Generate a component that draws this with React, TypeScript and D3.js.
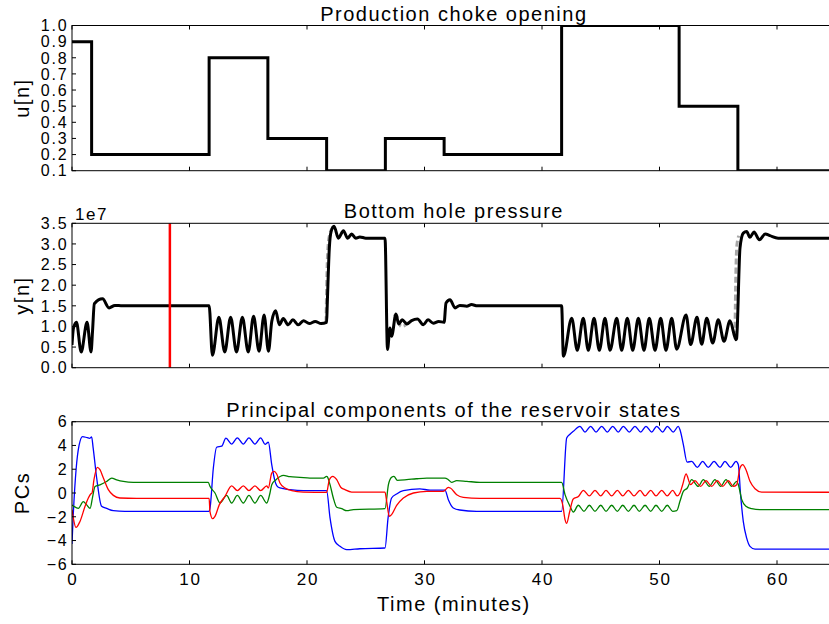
import React from "react";
import * as d3 from "d3";

// ---------------- data ----------------
const xTicks = [0, 10, 20, 30, 40, 50, 60];
const uTicks = [0.1, 0.2, 0.3, 0.4, 0.5, 0.6, 0.7, 0.8, 0.9, 1.0];
const yTicks = [0, 0.5, 1.0, 1.5, 2.0, 2.5, 3.0, 3.5];
const pcTicks = [-6, -4, -2, 0, 2, 4, 6];

// choke opening (time in minutes, value) - step after
const choke: [number, number][] = [
  [0, 0.9], [1.67, 0.2], [11.67, 0.8], [16.67, 0.3], [21.67, 0.1], [26.67, 0.3],
  [31.67, 0.2], [41.67, 1.0], [51.67, 0.5], [56.67, 0.1], [66, 0.1],
];

// bottom hole pressure (x 1e7)
const pressure: [number, number][] = [
  [0, 0.55], [0.12, 0.95], [0.38, 1.1], [0.78, 0.38], [1.28, 1.1], [1.62, 0.38], [1.75, 0.9],
  [1.9, 1.55], [2.6, 1.67], [3.15, 1.45], [3.65, 1.51], [4.3, 1.5], [11.67, 1.5], [11.95, 0.3],
  [12.5, 1.22], [13.0, 0.38], [13.5, 1.22], [14.0, 0.38], [14.5, 1.22], [15.0, 0.38], [15.45, 1.25],
  [15.92, 0.4], [16.35, 1.28], [16.72, 0.4], [17.0, 1.12], [17.33, 1.38], [17.65, 1.04], [17.98, 1.19],
  [18.4, 1.04], [18.8, 1.16], [19.26, 1.04], [19.7, 1.14], [20.2, 1.07], [20.7, 1.12], [21.2, 1.07],
  [21.67, 1.1], [21.72, 1.5], [21.9, 2.9], [22.05, 3.3], [22.3, 3.43], [22.67, 3.14], [23.1, 3.32],
  [23.46, 3.14], [23.8, 3.24], [24.15, 3.14], [24.5, 3.17], [25, 3.14], [26.64, 3.14], [26.85, 0.44],
  [27.06, 0.96], [27.2, 0.76], [27.57, 1.3], [27.8, 1.06], [28.1, 1.16], [28.5, 1.06], [28.9, 1.14],
  [29.4, 1.18], [29.9, 1.04], [30.3, 1.16], [30.75, 1.08], [31.2, 1.12], [31.67, 1.1], [31.83, 1.57],
  [32.17, 1.65], [32.6, 1.45], [33.0, 1.51], [33.6, 1.49], [34.0, 1.53], [34.5, 1.5], [41.67, 1.5],
  [41.82, 0.28], [42.53, 1.2], [43.0, 0.42], [43.51, 1.2], [43.94, 0.42], [44.43, 1.2], [44.88, 0.42],
  [45.36, 1.2], [45.79, 0.42], [46.36, 1.2], [46.78, 0.42], [47.26, 1.2], [47.72, 0.42], [48.2, 1.2],
  [48.68, 0.42], [49.13, 1.2], [49.62, 0.42], [50.1, 1.2], [50.55, 0.42], [51.04, 1.2], [51.46, 0.45],
  [52.26, 1.28], [52.65, 0.56], [53.19, 1.22], [53.59, 0.57], [54.02, 1.2], [54.53, 0.6], [55.0, 1.16],
  [55.49, 0.64], [56.0, 1.14], [56.51, 0.68], [56.56, 0.7], [56.85, 2.9], [57.13, 3.26], [57.42, 3.3],
  [57.7, 3.16], [58.04, 3.29], [58.5, 3.1], [59.0, 3.24], [59.4, 3.2], [60.1, 3.14], [66, 3.14],
];

// target pressure (grey dashed) where it departs from the prediction
const targetSegments: [number, number][][] = [
  [[21.62, 1.1], [21.7, 2.3], [21.78, 2.9], [21.95, 3.25], [22.2, 3.4]],
  [[27.4, 1.25], [27.6, 1.28], [27.8, 1.12], [28.0, 1.0], [28.3, 1.02], [28.6, 1.1]],
  [[56.42, 0.75], [56.5, 2.3], [56.58, 2.95], [56.75, 3.2]],
];

const markerTime = 8.33;

// principal components
const pc1: [number, number][] = [
  [0, -4.3], [0.1, -2.0], [0.35, 2.0], [0.6, 4.0], [0.9, 4.75], [1.3, 4.65], [1.5, 4.6], [1.67, 4.72],
  [1.8, 3.8], [2.1, 1.26], [2.52, -1.12], [2.95, -1.3], [3.52, -1.49], [4.5, -1.54], [11.67, -1.54],
  [11.75, -1.26], [12.03, 2.1], [12.31, 3.85], [12.74, 3.94], [13.1, 4.62], [13.59, 4.12], [14.07, 4.64],
  [14.58, 4.12], [15.06, 4.64], [15.57, 4.12], [16.06, 4.64], [16.43, 4.1], [16.71, 4.27], [17.0, 2.38],
  [17.28, 0.98], [17.56, 0.48], [18.0, 0.36], [18.55, 0.28], [19.69, 0.2], [21.67, 0.2], [21.96, -2.1],
  [22.38, -4.07], [22.81, -4.49], [23.38, -4.77], [24.5, -4.69], [26.64, -4.63], [26.9, -2.1],
  [27.2, -0.42], [27.63, -0.08], [28.2, 0.2], [29.6, 0.34], [30.47, 0.25], [31.74, 0.25], [32.03, -0.56],
  [32.45, -1.26], [33.0, -1.43], [34.44, -1.54], [41.67, -1.54], [42.1, 4.63], [42.38, 4.95],
  [42.67, 5.19], [43.23, 5.61], [43.66, 5.13], [44.14, 5.61], [44.6, 5.13], [45.08, 5.61], [45.56, 5.13],
  [46.02, 5.61], [46.49, 5.13], [46.92, 5.61], [47.43, 5.13], [47.91, 5.61], [48.4, 5.13], [48.85, 5.61],
  [49.34, 5.13], [49.76, 5.61], [50.27, 5.13], [50.67, 5.61], [51.17, 5.13], [51.6, 5.6], [51.75, 5.3],
  [52.03, 4.07], [52.35, 2.6], [52.74, 2.66], [53.22, 2.15], [53.67, 2.66], [54.15, 2.15], [54.64, 2.66],
  [55.15, 2.15], [55.57, 2.66], [56.06, 2.15], [56.51, 2.66], [56.71, 2.38], [56.9, -0.14],
  [57.13, -2.39], [57.42, -3.8], [57.7, -4.49], [58.13, -4.72], [66, -4.72],
];

const pc2: [number, number][] = [
  [0, -1.4], [0.11, -2.1], [0.34, -2.9], [0.68, -2.39], [1.11, -1.12], [1.39, -0.42], [1.59, -0.08],
  [1.7, 0], [1.87, 1.12], [2.16, 2.15], [2.38, 1.96], [2.67, 1.26], [3.09, 0.28], [3.52, -0.2],
  [4.08, -0.42], [5.5, -0.45], [11.67, -0.45], [11.74, -1.54], [11.97, -2.16], [12.17, -1.96],
  [12.54, -0.98], [13.02, -0.28], [13.59, 0.6], [14.07, 0.2], [14.58, 0.6], [15.06, 0.2], [15.57, 0.6],
  [16.06, 0.2], [16.57, 0.6], [16.71, 0.42], [17.0, 1.68], [17.19, 1.82], [17.42, 1.6], [17.7, 0.84],
  [18.13, 0.42], [18.7, 0.2], [19.69, 0.08], [21.67, 0.05], [21.9, 1.12], [22.19, 1.4], [22.53, 1.12],
  [22.87, 0.48], [23.23, 0.28], [23.8, 0.08], [26.64, 0.08], [26.78, -0.7], [27.0, -1.96], [27.2, -1.82],
  [27.63, -1.04], [28.2, -0.42], [29.06, 0], [30.2, 0.14], [31.6, 0.14], [32.03, 0.48], [32.2, 0.42],
  [32.74, -0.14], [33.3, -0.36], [34.7, -0.45], [41.53, -0.45], [41.76, -0.98], [41.96, -2.24],
  [42.1, -2.55], [42.35, -1.6], [42.66, -0.5], [43.1, -0.3], [43.52, 0.22], [44.03, -0.25], [44.51, 0.22],
  [45.0, -0.25], [45.45, 0.22], [45.93, -0.25], [46.41, 0.22], [46.87, -0.25], [47.35, 0.22],
  [47.83, -0.25], [48.34, 0.22], [48.77, -0.25], [49.25, 0.22], [49.7, -0.25], [50.19, 0.22],
  [50.66, -0.25], [51.12, 0.22], [51.5, -0.25], [51.74, 0], [51.97, 0.7], [52.26, 1.6], [52.65, 0.7],
  [53.02, 1.04], [53.5, 0.56], [53.96, 1.04], [54.44, 0.56], [54.92, 1.04], [55.38, 0.56], [55.86, 1.04],
  [56.28, 0.56], [56.57, 0.7], [56.85, 2.1], [57.08, 2.38], [57.36, 1.96], [57.7, 0.98], [58.13, 0.36],
  [58.69, 0.08], [66, 0.06],
];

const pc3: [number, number][] = [
  [0, -1.0], [0.2, -1.15], [0.54, -1.29], [0.96, -0.73], [1.25, -1.0], [1.54, -1.29], [1.76, -0.3],
  [1.96, 0.55], [2.38, 0.69], [2.95, 0.97], [3.38, 1.25], [3.8, 1.11], [4.37, 0.97], [5.22, 0.89],
  [11.6, 0.89], [11.74, 0.56], [12.17, 0], [12.6, -0.84], [13.16, -0.2], [13.59, -0.84], [14.07, -0.2],
  [14.58, -0.84], [15.06, -0.2], [15.57, -0.84], [16.06, -0.2], [16.57, -0.84], [16.85, 0], [17.0, 0.7],
  [17.36, 1.12], [18.0, 1.49], [18.55, 1.37], [19.4, 1.32], [20.25, 1.26], [21.4, 1.26], [21.67, 1.4],
  [21.73, 1.37], [21.96, 0.7], [22.24, -0.42], [22.53, -1.2], [22.95, -1.32], [23.38, -1.49],
  [23.94, -1.4], [26.64, -1.32], [26.93, 0.7], [27.2, 1.32], [27.4, 1.4], [27.69, 1.07], [28.48, 1.12],
  [29.3, 1.2], [30.2, 1.26], [31.74, 1.26], [32.03, 1.12], [32.31, 0.9], [32.74, 1.04], [33.6, 0.98],
  [34.72, 0.9], [41.67, 0.9], [41.96, -0.14], [42.38, -1.12], [42.67, -1.6], [43.09, -1.03],
  [43.57, -1.54], [44.03, -1.03], [44.51, -1.54], [45.0, -1.03], [45.45, -1.54], [45.93, -1.03],
  [46.41, -1.54], [46.87, -1.03], [47.35, -1.54], [47.83, -1.03], [48.28, -1.54], [48.77, -1.03],
  [49.25, -1.54], [49.7, -1.03], [50.19, -1.54], [50.66, -1.03], [51.12, -1.54], [51.47, -1.49],
  [51.74, -0.7], [52.03, 0.14], [52.37, 0.42], [52.74, 1.12], [53.3, 0.56], [53.73, 1.12], [54.24, 0.56],
  [54.72, 1.12], [55.21, 0.56], [55.66, 1.12], [56.14, 0.56], [56.57, 0.98], [56.71, 0.7], [57.0, -0.56],
  [57.36, -1.12], [57.85, -1.32], [58.55, -1.4], [66, -1.4],
];

// ---------------- layout ----------------
const W = 829;
const H = 624;
const LEFT = 72;
const RIGHT = 835.75;
const FONT = "'Liberation Sans', Arial, Helvetica, sans-serif";
const LS = 1.5;
const TICK_FS = 16;
const TICK_LS = 1.8;

const x = d3.scaleLinear().domain([0, 65]).range([LEFT, RIGHT]);

type PanelProps = {
  id: string;
  top: number;
  bottom: number;
  y: d3.ScaleLinear<number, number>;
  ticks: number[];
  fmt: (v: number) => string;
  title: string;
  ylabel: string;
  showX?: boolean;
  children?: React.ReactNode;
};

function Panel({ id, top, bottom, y, ticks, fmt, title, ylabel, showX, children }: PanelProps) {
  const tl = 4;
  const mid = (top + bottom) / 2;
  return (
    <g>
      <defs>
        <clipPath id={id}>
          <rect x={LEFT} y={top} width={RIGHT - LEFT} height={bottom - top} />
        </clipPath>
      </defs>
      <g clipPath={`url(#${id})`}>{children}</g>
      <rect x={LEFT} y={top} width={RIGHT - LEFT} height={bottom - top} fill="none" stroke="#000" strokeWidth={1} />
      {xTicks.map((t) => (
        <g key={"x" + t}>
          <line x1={x(t)} x2={x(t)} y1={bottom} y2={bottom - tl} stroke="#000" strokeWidth={1} />
          <line x1={x(t)} x2={x(t)} y1={top} y2={top + tl} stroke="#000" strokeWidth={1} />
          {showX && (
            <text x={x(t) + TICK_LS / 2} y={585} textAnchor="middle" fontSize={17} letterSpacing={TICK_LS}>
              {String(t)}
            </text>
          )}
        </g>
      ))}
      {ticks.map((t) => (
        <g key={"y" + t}>
          <line x1={LEFT} x2={LEFT + tl} y1={y(t)} y2={y(t)} stroke="#000" strokeWidth={1} />
          <text x={68.5} y={y(t)} dy="0.36em" textAnchor="end" fontSize={TICK_FS} letterSpacing={TICK_LS}>
            {fmt(t)}
          </text>
        </g>
      ))}
      <text x={(LEFT + RIGHT) / 2} y={top - 5} textAnchor="middle" fontSize={20} letterSpacing={LS}>
        {title}
      </text>
      <text transform={`translate(29,${mid}) rotate(-90)`} textAnchor="middle" fontSize={20} letterSpacing={LS}>
        {ylabel}
      </text>
    </g>
  );
}

export default function App() {
  const yU = d3.scaleLinear().domain([0.1, 1.0]).range([170.7, 25.5]);
  const yP = d3.scaleLinear().domain([0, 3.5]).range([367.7, 223.3]);
  const yC = d3.scaleLinear().domain([-6, 6]).range([564.3, 421.7]);

  const stepLine = d3.line<[number, number]>().x((d) => x(d[0])).y((d) => yU(d[1])).curve(d3.curveStepAfter);
  const pLine = d3.line<[number, number]>().x((d) => x(d[0])).y((d) => yP(d[1])).curve(d3.curveMonotoneX);
  const cLine = d3.line<[number, number]>().x((d) => x(d[0])).y((d) => yC(d[1])).curve(d3.curveMonotoneX);

  const f1 = d3.format(".1f");
  const fPc = (v: number) => (v < 0 ? "\u2212" + Math.abs(v) : String(v));

  return (
    <svg width={W} height={H} style={{ position: "fixed", left: 0, top: 0, background: "#fff" }} fontFamily={FONT}>
      <rect x={0} y={0} width={W} height={H} fill="#fff" />
      <Panel id="cu" top={25.5} bottom={170.7} y={yU} ticks={uTicks} fmt={f1} title="Production choke opening" ylabel="u[n]">
        <path d={stepLine(choke) || ""} fill="none" stroke="#000" strokeWidth={3} />
      </Panel>
      <Panel id="cp" top={223.3} bottom={367.7} y={yP} ticks={yTicks} fmt={f1} title="Bottom hole pressure" ylabel="y[n]">
        {targetSegments.map((s, i) => (
          <path key={i} d={pLine(s) || ""} fill="none" stroke="#a8a8a8" strokeWidth={3} strokeDasharray="6,3" />
        ))}
        <path d={pLine(pressure) || ""} fill="none" stroke="#000" strokeWidth={3} strokeLinejoin="round" />
        <line x1={x(markerTime)} x2={x(markerTime)} y1={223.3} y2={367.7} stroke="#ff0000" strokeWidth={2.5} />
      </Panel>
      <text x={75} y={220} fontSize={17} letterSpacing={LS}>1e7</text>
      <Panel id="cc" top={421.7} bottom={564.3} y={yC} ticks={pcTicks} fmt={fPc} title="Principal components of the reservoir states" ylabel="PCs" showX>
        <path d={cLine(pc1) || ""} fill="none" stroke="#0000ff" strokeWidth={1.3} />
        <path d={cLine(pc3) || ""} fill="none" stroke="#008000" strokeWidth={1.3} />
        <path d={cLine(pc2) || ""} fill="none" stroke="#ff0000" strokeWidth={1.3} />
      </Panel>
      <text x={(LEFT + RIGHT) / 2} y={611} textAnchor="middle" fontSize={20} letterSpacing={LS}>
        Time (minutes)
      </text>
    </svg>
  );
}
